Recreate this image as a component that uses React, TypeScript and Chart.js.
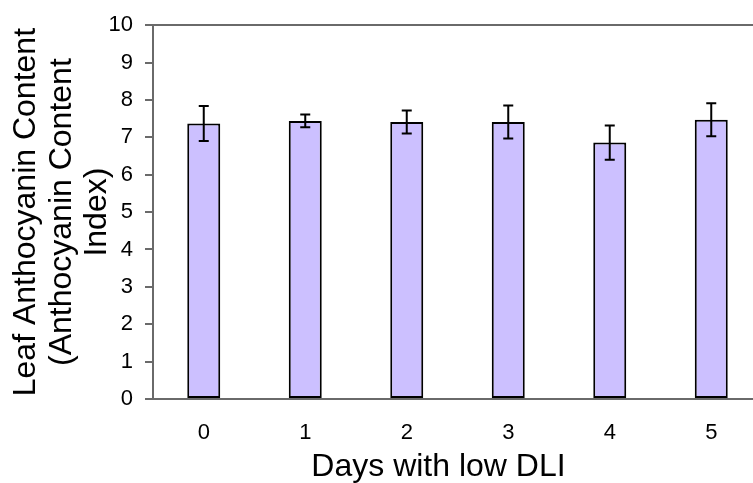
import React, { useEffect, useRef } from "react";
import { Chart, registerables } from "chart.js";

Chart.register(...registerables);

const categories = ["0", "1", "2", "3", "4", "5"];
const values = [7.37, 7.44, 7.41, 7.41, 6.86, 7.47];
const errors = [0.47, 0.17, 0.31, 0.44, 0.46, 0.44];
const yTitleLines = ["Leaf Anthocyanin Content", "(Anthocyanin Content", "Index)"];
const xTitle = "Days with low DLI";

const FONT = "'Liberation Sans', Arial, sans-serif";
const AXIS_GRAY = "#6a6a6a";

const errorBarPlugin = {
  id: "errorBars",
  afterDatasetsDraw(chart: any) {
    const meta = chart.getDatasetMeta(0);
    const yScale = chart.scales.y;
    const ctx = chart.ctx;
    ctx.save();
    ctx.strokeStyle = "#000";
    ctx.lineWidth = 2;
    meta.data.forEach((bar: any, i: number) => {
      const v = values[i];
      const e = errors[i];
      const yTop = yScale.getPixelForValue(v + e);
      const yBot = yScale.getPixelForValue(v - e);
      const x = bar.x;
      const cap = 5;
      ctx.beginPath();
      ctx.moveTo(x, yTop);
      ctx.lineTo(x, yBot);
      ctx.moveTo(x - cap, yTop);
      ctx.lineTo(x + cap, yTop);
      ctx.moveTo(x - cap, yBot);
      ctx.lineTo(x + cap, yBot);
      ctx.stroke();
    });
    ctx.restore();
  },
  afterDraw(chart: any) {
    const xs = chart.scales.x;
    const ctx = chart.ctx;
    ctx.save();
    ctx.fillStyle = "#000";
    ctx.font = `32px ${FONT}`;
    ctx.textAlign = "center";
    ctx.textBaseline = "middle";
    ctx.fillText(xTitle, (xs.left + xs.right) / 2 - 19, chart.height - 16);
    ctx.restore();
  },
};

export default function App() {
  const ref = useRef<HTMLCanvasElement>(null);
  useEffect(() => {
    if (!ref.current) return;
    const chart = new Chart(ref.current, {
      type: "bar",
      data: {
        labels: categories,
        datasets: [
          {
            data: values,
            backgroundColor: "rgb(204,192,255)",
            borderColor: "#000",
            borderWidth: 2,
            borderSkipped: false,
            barPercentage: 0.325,
            categoryPercentage: 1,
          },
        ],
      },
      options: {
        responsive: false,
        animation: false,
        devicePixelRatio: 1,
        layout: { padding: { top: 25, left: 0, right: 0, bottom: 15.6 } },
        plugins: { legend: { display: false }, tooltip: { enabled: false } },
        scales: {
          x: {
            grid: { display: false, drawTicks: false },
            border: { display: true, color: AXIS_GRAY, width: 2 },
            ticks: { color: "#000", font: { family: FONT, size: 22 }, padding: 21 },
          },
          y: {
            min: 0,
            max: 10,
            afterFit: (axis: any) => {
              axis.width = 153;
            },
            ticks: { stepSize: 1, color: "#000", font: { family: FONT, size: 22 }, padding: 12 },
            grid: {
              color: (c: any) => (c.tick && c.tick.value === 10 ? AXIS_GRAY : "transparent"),
              tickColor: AXIS_GRAY,
              tickLength: 8,
              lineWidth: 2,
            },
            border: { display: true, color: AXIS_GRAY, width: 2 },
            title: {
              display: true,
              text: yTitleLines,
              color: "#000",
              font: { family: FONT, size: 32, lineHeight: 1.1 },
              padding: { top: 9, bottom: 0 },
            },
          },
        },
      },
      plugins: [errorBarPlugin],
    });
    return () => chart.destroy();
  }, []);
  return (
    <div style={{ position: "absolute", left: 0, top: 0, width: 753, height: 483, overflow: "hidden", background: "#fff" }}>
      <canvas ref={ref} width={762} height={483} style={{ display: "block" }} />
    </div>
  );
}
